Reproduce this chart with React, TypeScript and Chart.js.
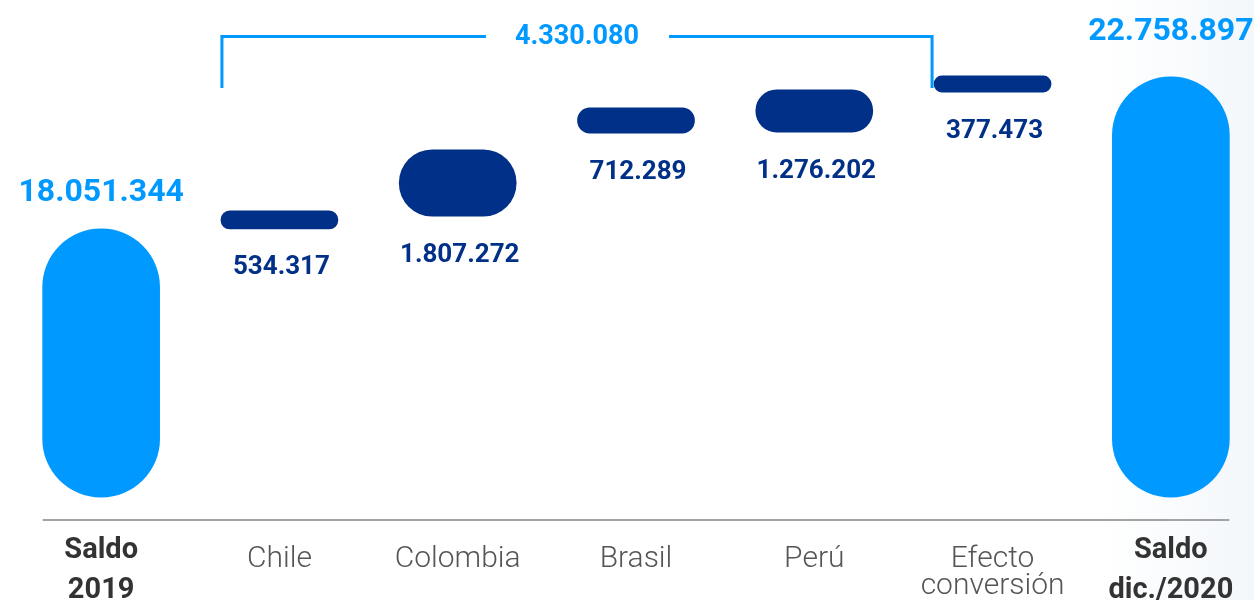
import React, { useEffect, useRef } from "react";
import { Chart, registerables } from "chart.js";

Chart.register(...registerables);

// ---- data ----
const categories: string[][] = [
  ["Saldo", "2019"],
  ["Chile"],
  ["Colombia"],
  ["Brasil"],
  ["Perú"],
  ["Efecto", "conversión"],
  ["Saldo", "dic./2020"],
];
const isTotal: boolean[] = [true, false, false, false, false, false, true];
// floating bar ranges as drawn in the picture
const barStart: number[] = [9750000, 18051344, 18450000, 21020000, 21050000, 22290000, 9750000];
const barEnd: number[] = [18051344, 18610000, 20500000, 21800000, 22360000, 22790000, 22758897];
const valueLabels: string[] = [
  "18.051.344",
  "534.317",
  "1.807.272",
  "712.289",
  "1.276.202",
  "377.473",
  "22.758.897",
];
const bracketLabel = "4.330.080";
const yMin = 9040000;
const yMax = 25140000;

const LIGHT = "#0099FF";
const DARK = "#003087";

const decorPlugin = {
  id: "decor",
  beforeDraw(chart: any) {
    const { ctx, width, height } = chart;
    ctx.save();
    ctx.fillStyle = "#ffffff";
    ctx.fillRect(0, 0, width, height);
    const g = ctx.createLinearGradient(1100, 0, 1254, 0);
    g.addColorStop(0, "rgba(228,237,246,0)");
    g.addColorStop(1, "rgba(225,235,245,0.4)");
    ctx.fillStyle = g;
    ctx.fillRect(1100, 0, 164, height);
    ctx.restore();
  },
  afterDatasetsDraw(chart: any) {
    const { ctx, chartArea } = chart;
    const meta = chart.getDatasetMeta(0);
    const els = meta.data;
    ctx.save();
    // baseline
    const first = els[0];
    const last = els[els.length - 1];
    ctx.strokeStyle = "#a3a3a3";
    ctx.lineWidth = 2;
    ctx.beginPath();
    ctx.moveTo(first.x - first.width / 2, chartArea.bottom);
    ctx.lineTo(last.x + last.width / 2, chartArea.bottom);
    ctx.stroke();

    // value labels
    ctx.textAlign = "center";
    ctx.textBaseline = "middle";
    els.forEach((el: any, i: number) => {
      if (isTotal[i]) {
        ctx.fillStyle = LIGHT;
        ctx.font = "bold 32px Roboto";
        const up = i === els.length - 1 ? 45 : 36;
        ctx.fillText(valueLabels[i], el.x, el.y - up);
      } else {
        ctx.fillStyle = DARK;
        ctx.font = "bold 26px Roboto";
        ctx.fillText(valueLabels[i], el.x + 2, el.base + 39);
      }
    });

    // bracket
    const l = els[1];
    const r = els[5];
    const xL = l.x - l.width / 2 + 1;
    const xR = r.x - r.width / 2 - 2;
    const yT = chartArea.top + 36.5;
    const yB = chartArea.top + 88;
    const cx = (xL + xR) / 2;
    ctx.font = "bold 27px Roboto";
    const tw = ctx.measureText(bracketLabel).width;
    ctx.strokeStyle = LIGHT;
    ctx.lineWidth = 3;
    ctx.beginPath();
    ctx.moveTo(xL, yB);
    ctx.lineTo(xL, yT);
    ctx.lineTo(cx - tw / 2 - 29, yT);
    ctx.moveTo(cx + tw / 2 + 30, yT);
    ctx.lineTo(xR, yT);
    ctx.lineTo(xR, yB);
    ctx.stroke();
    ctx.fillStyle = LIGHT;
    ctx.fillText(bracketLabel, cx, yT + 1);
    ctx.restore();
  },
};

export default function App() {
  const ref = useRef<HTMLCanvasElement | null>(null);
  useEffect(() => {
    if (!ref.current) return;
    const chart = new Chart(ref.current, {
      type: "bar",
      data: {
        labels: categories as any,
        datasets: [
          {
            data: barStart.map((s, i) => [s, barEnd[i]]) as any,
            backgroundColor: isTotal.map((t) => (t ? LIGHT : DARK)),
            borderRadius: 200,
            borderSkipped: false,
            barThickness: 117,
          },
        ],
      },
      options: {
        responsive: false,
        animation: false,
        devicePixelRatio: 1,
        layout: { padding: { left: 12, right: 2, top: 0, bottom: 0 } },
        plugins: { legend: { display: false }, tooltip: { enabled: false } },
        scales: {
          y: { display: false, min: yMin, max: yMax },
          x: {
            type: "category",
            position: "bottom",
            offset: true,
            grid: { display: false, drawTicks: false },
            border: { display: false },
            ticks: {
              autoSkip: false,
              maxRotation: 0,
              minRotation: 0,
              padding: 10.5,
              color: "#333333",
              font: { family: "Roboto", size: 29, weight: "bold", lineHeight: 40 / 29 },
              callback: (_v: any, i: number) => (isTotal[i] ? categories[i] : ""),
            },
            afterFit: (s: any) => {
              s.height = 80;
            },
          },
          x2: {
            type: "category",
            axis: "x",
            position: { y: yMin },
            offset: true,
            grid: { display: false, drawTicks: false },
            border: { display: false },
            ticks: {
              autoSkip: false,
              maxRotation: 0,
              minRotation: 0,
              padding: 25.5,
              color: "#555555",
              font: { family: "Roboto", size: 30, weight: "300", lineHeight: 27 / 30 },
              callback: (_v: any, i: number) => (isTotal[i] ? "" : categories[i]),
            },
          },
        } as any,
      },
      plugins: [decorPlugin],
    });
    return () => chart.destroy();
  }, []);

  return (
    <div
      style={{
        position: "fixed",
        left: 0,
        top: 0,
        width: 1254,
        height: 600,
        overflow: "hidden",
        background: "#ffffff",
      }}
    >
      <canvas ref={ref} width={1262} height={600} style={{ display: "block", width: 1262, height: 600 }} />
    </div>
  );
}
